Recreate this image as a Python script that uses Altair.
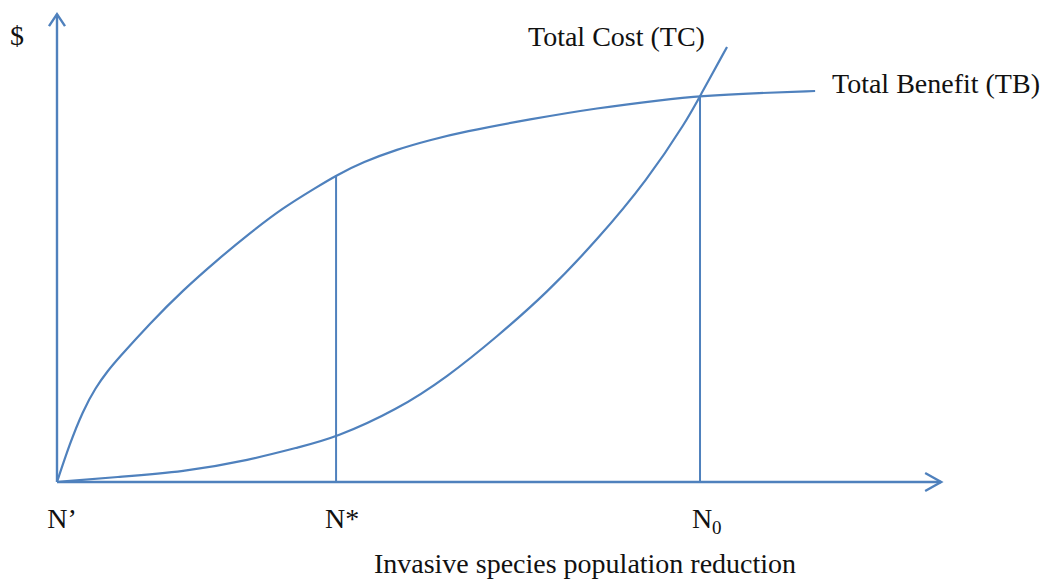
import altair as alt
import pandas as pd

# Units: x = population reduction (N' = 0, N0 = 100); y = $ (TB at N0 = 100)
tb_x = [0, 2.0, 4.0, 6.0, 8.0, 9.3, 14.5, 19.6, 24.9, 30.0, 35.1, 40.4, 43.5, 47.6, 52.9, 58.0, 63.1, 73.6, 84.0, 94.2, 100, 109.3, 117.9]
tb_y = [0, 10.0, 18.3, 24.5, 29.0, 31.6, 41.2, 49.7, 57.5, 64.5, 71.0, 76.4, 79.5, 82.9, 86.2, 88.6, 90.7, 94.0, 96.9, 99.0, 100, 100.8, 101.3]
tc_x = [0, 9.3, 19.6, 30.0, 37.8, 43.2, 52.9, 60.7, 68.4, 76.2, 84.0, 91.8, 98.0, 100, 104.2]
tc_y = [0, 1.3, 2.6, 5.7, 9.1, 11.4, 18.7, 27.2, 37.6, 49.0, 62.7, 78.2, 93.8, 100, 112.7]

n_star = 43.4
n_zero = 100.0
tb_at_nstar = 79.5
tb_at_nzero = 100.0
x_axis_end = 137.5
y_axis_end = 121.2

tick_names = ["N\u2019", "N*", "N"]
tick_pos = [0, n_star, n_zero]
tick_dx = [5, 6, 2]

W, H = 1035, 572
x_dom = [-7.62, 153.34]
y_dom = [-25.39, 122.8]
px_x = W / (x_dom[1] - x_dom[0])
px_y = H / (y_dom[1] - y_dom[0])

BLUE = "#4f81bd"
FONT = "Liberation Serif"
FS = 28

xs = alt.Scale(domain=x_dom, nice=False, zero=False)
ys = alt.Scale(domain=y_dom, nice=False, zero=False)

curves = pd.DataFrame(
    {"x": tb_x + tc_x,
     "y": tb_y + tc_y,
     "curve": ["TB"] * len(tb_x) + ["TC"] * len(tc_x)}
)

base_lines = alt.Chart(curves).mark_line(
    color=BLUE, strokeWidth=2.2, interpolate="basis"
).encode(
    x=alt.X("x:Q", scale=xs, axis=None),
    y=alt.Y("y:Q", scale=ys, axis=None),
    detail="curve:N",
)

# axes (as rules) and drop lines
rules_df = pd.DataFrame({
    "x": [0, 0, n_star, n_zero],
    "x2": [x_axis_end, 0, n_star, n_zero],
    "y": [0, 0, 0, 0],
    "y2": [0, y_axis_end, tb_at_nstar, tb_at_nzero],
    "w": ["axis", "axis", "drop", "drop"],
})
rules = alt.Chart(rules_df).mark_rule(color=BLUE).encode(
    x=alt.X("x:Q", scale=xs, axis=None),
    x2="x2:Q",
    y=alt.Y("y:Q", scale=ys, axis=None),
    y2="y2:Q",
    strokeWidth=alt.StrokeWidth("w:N", scale=alt.Scale(domain=["axis", "drop"], range=[2.4, 2.0]), legend=None),
)

# arrow heads
bx, sx = 16 / px_x, 9 / px_y      # x-axis arrow: back, spread
by, sy = 12 / px_y, 8 / px_x      # y-axis arrow
arrows = pd.DataFrame({
    "x": [x_axis_end - bx, x_axis_end, x_axis_end - bx, -sy, 0, sy],
    "y": [sx, 0, -sx, y_axis_end - by, y_axis_end, y_axis_end - by],
    "o": [0, 1, 2, 0, 1, 2],
    "g": ["ax"] * 3 + ["ay"] * 3,
})
heads = alt.Chart(arrows).mark_line(color=BLUE, strokeWidth=2.4).encode(
    x=alt.X("x:Q", scale=xs, axis=None),
    y=alt.Y("y:Q", scale=ys, axis=None),
    order="o:Q",
    detail="g:N",
)

tick_layers = []
for name, pos, dx in zip(tick_names, tick_pos, tick_dx):
    tick_layers.append(
        alt.Chart(pd.DataFrame({"x": [pos], "t": [name]})).mark_text(
            font=FONT, fontSize=FS, color="#111", baseline="alphabetic", align="center", dx=dx
        ).encode(x=alt.X("x:Q", scale=xs, axis=None), y=alt.value(520), text="t:N")
    )
sub_text = alt.Chart(pd.DataFrame({"x": [n_zero], "t": ["0"]})).mark_text(
    font=FONT, fontSize=19, color="#111", baseline="alphabetic", align="left", dx=12
).encode(
    x=alt.X("x:Q", scale=xs, axis=None),
    y=alt.value(526),
    text="t:N",
)

labels_df = pd.DataFrame({
    "t": ["$", "Total Cost (TC)", "Total Benefit (TB)", "Invasive species population reduction"],
    "px": [9, 520, 824, 577],
    "py": [37, 38, 85, 565],
    "a": ["center", "left", "left", "center"],
})

def lab(i):
    r = labels_df.iloc[i]
    return alt.Chart(labels_df.iloc[[i]]).mark_text(
        font=FONT, fontSize=FS, color="#111", baseline="alphabetic", align=r["a"]
    ).encode(x=alt.value(float(r["px"])), y=alt.value(float(r["py"])), text="t:N")

chart = alt.layer(
    rules, heads, base_lines, *tick_layers, sub_text, lab(0), lab(1), lab(2), lab(3)
).properties(
    width=W, height=H, padding=0, autosize=alt.AutoSizeParams(type="none")
).configure(background="white", view=alt.ViewConfig(stroke=None))

chart.save("out.html", embed_options={"renderer": "svg", "actions": False})
